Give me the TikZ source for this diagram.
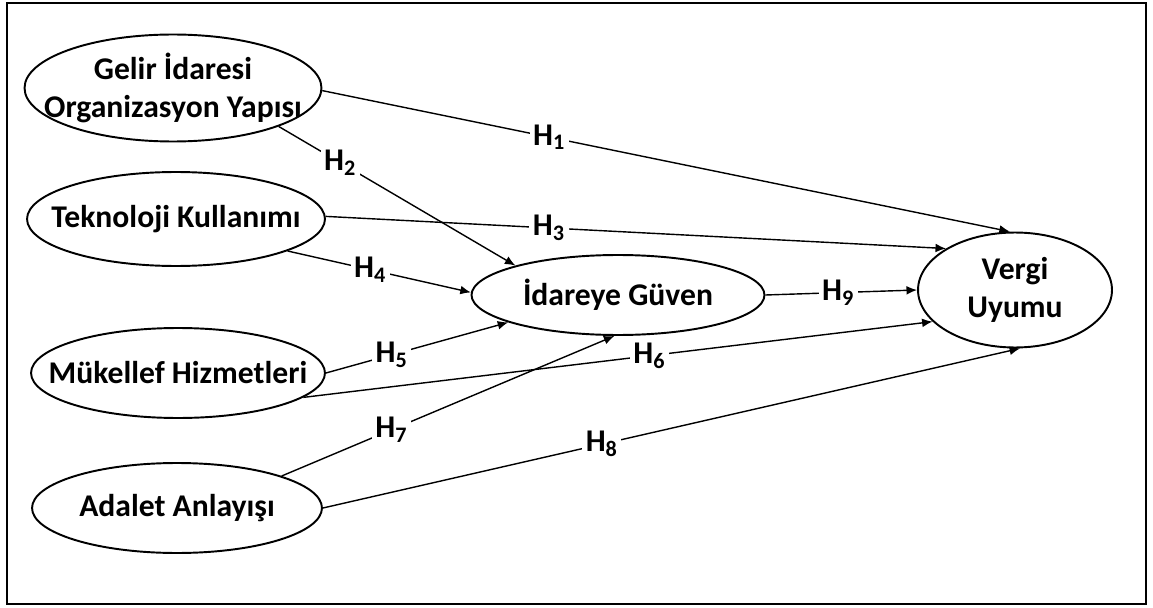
\documentclass[tikz,border=0pt]{standalone}
\usepackage{fontspec}
\setmainfont{Carlito}
\usetikzlibrary{shapes.geometric,arrows.meta}

\begin{document}
\begin{tikzpicture}[x=0.02cm, y=-0.02cm,
  construct/.style={ellipse, draw, line width=1.1pt, inner sep=0pt,
    label={[align=center, font=\fontsize{18}{21.6}\selectfont\bfseries]center:#1}},
  hyp/.style={fill=white, inner sep=2pt, font=\fontsize{18}{21}\selectfont\bfseries},
  ]
  \useasboundingbox (0,0) rectangle (1153,608);
  \draw[line width=1.6pt] (7,3) rectangle (1146,604);

  \node[construct={Gelir İdaresi\\Organizasyon Yapısı}, minimum width=5.94cm, minimum height=2.14cm] (gioy) at (173,88) {};
  \node[construct={Teknoloji Kullanımı}, minimum width=5.96cm, minimum height=1.88cm] (tk) at (176,219) {};
  \node[construct={Mükellef Hizmetleri}, minimum width=5.88cm, minimum height=1.80cm] (mh) at (178,373) {};
  \node[construct={Adalet Anlayışı}, minimum width=5.80cm, minimum height=1.80cm] (aa) at (177,508) {};
  \node[construct={İdareye Güven}, minimum width=5.86cm, minimum height=1.60cm] (ig) at (618,295) {};
  \node[construct={Vergi\\Uyumu}, minimum width=3.88cm, minimum height=2.30cm] (vu) at (1015,290) {};

  \path[->, line width=0.8pt, >={Latex[length=6pt,width=5pt]}]
  (gioy.-1) edge node[hyp, pos=0.33] {H\textsubscript{1}} (vu.95)
  (gioy.-20) edge node[hyp, pos=0.26] {H\textsubscript{2}} (ig.164)
  (tk.1) edge node[hyp, pos=0.36] {H\textsubscript{3}} (vu.149)
  (tk.-16) edge node[hyp, pos=0.45] {H\textsubscript{4}} (ig.179)
  (mh.0) edge node[hyp, pos=0.36] {H\textsubscript{5}} (ig.194)
  (mh.-11) edge node[hyp, pos=0.55] {H\textsubscript{6}} (vu.201)
  (aa.17) edge node[hyp, pos=0.33] {H\textsubscript{7}} (ig.265)
  (aa.0) edge node[hyp, pos=0.40] {H\textsubscript{8}} (vu.-85)
  (ig.0) edge node[hyp, pos=0.48] {H\textsubscript{9}} (vu.180)
  ;
\end{tikzpicture}
\end{document}
